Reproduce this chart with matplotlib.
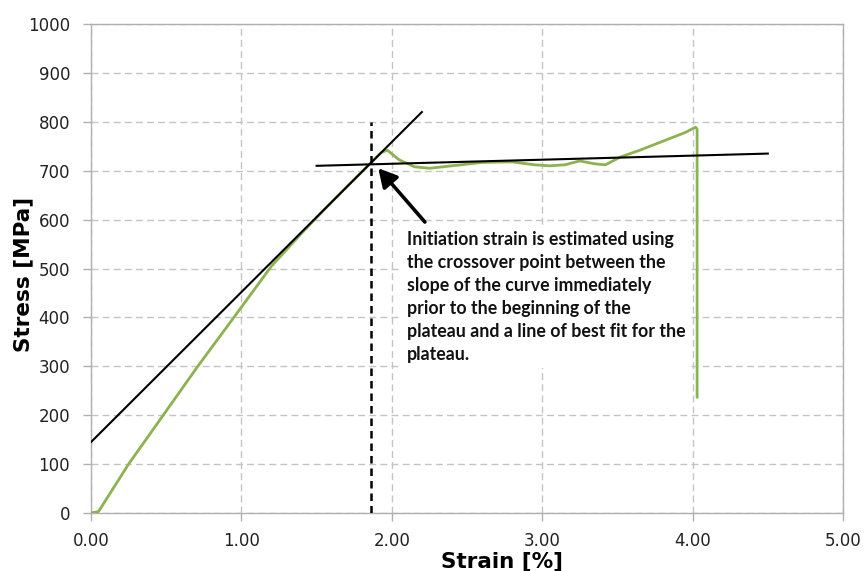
import matplotlib
matplotlib.use("Agg")
import matplotlib.pyplot as plt

# ---- data ----
strain = [0.00, 0.05, 0.25, 0.48, 0.71, 0.95, 1.20, 1.40, 1.55, 1.70, 1.86, 1.93, 1.97,
          2.05, 2.15, 2.25, 2.40, 2.60, 2.80, 2.95, 3.05, 3.15, 3.25, 3.35, 3.42,
          3.52, 3.65, 3.80, 3.95, 4.02, 4.03, 4.03]
stress = [0, 3, 100, 200, 300, 400, 505, 572, 620, 667, 716, 737, 742,
          722, 708, 705, 710, 717, 718, 712, 710, 712, 720, 714, 712,
          728, 742, 760, 778, 789, 785, 237]

slope_x = [0.0, 2.2]
slope_y = [145, 820]
plateau_x = [1.5, 4.5]
plateau_y = [710, 735]
init_strain = 1.86
init_line_top = 800
arrow_tail = (2.22, 595)
arrow_tip = (1.91, 705)
note = ("Initiation strain is estimated using\n"
        "the crossover point between the\n"
        "slope of the curve immediately\n"
        "prior to the beginning of the\n"
        "plateau and a line of best fit for the\n"
        "plateau.")
note_pos = (2.10, 576)

xticks = [0, 1, 2, 3, 4, 5]
xticklabels = ["0.00", "1.00", "2.00", "3.00", "4.00", "5.00"]
yticks = list(range(0, 1001, 100))

# ---- figure ----
fig = plt.figure(figsize=(8.64, 5.71), dpi=100)
ax = fig.add_axes([91/864, 1-513/571, (843-91)/864, (513-24)/571])
ax.set_xlim(0, 5)
ax.set_ylim(0, 1000)
ax.set_xticks(xticks)
ax.set_xticklabels(xticklabels)
ax.set_yticks(yticks)
ax.grid(True, color="#c4c4c4", linestyle=(0, (5, 3)), linewidth=1.0, zorder=0)
ax.set_axisbelow(True)
for s in ax.spines.values():
    s.set_color("#b0b0b0")
    s.set_linewidth(1.0)
ax.tick_params(axis="both", colors="#b0b0b0", labelcolor="#222222",
               labelsize=12, length=6, width=1.0)
ax.tick_params(axis="y", pad=9)
ax.tick_params(axis="x", pad=8)

ax.plot(strain, stress, color="#8db250", lw=2.0, zorder=3)
ax.plot(slope_x, slope_y, color="black", lw=1.5, zorder=4)
ax.plot(plateau_x, plateau_y, color="black", lw=1.5, zorder=4)
ax.plot([init_strain, init_strain], [0, init_line_top], color="black", lw=1.8,
        linestyle=(0, (3, 2)), zorder=4)

ax.annotate("", xy=arrow_tip, xytext=arrow_tail,
            arrowprops=dict(arrowstyle="-|>,head_length=1.1,head_width=0.6",
                            lw=2.6, color="black", shrinkA=0, shrinkB=0),
            zorder=5)

ax.text(note_pos[0], note_pos[1], note, ha="left", va="top", fontsize=12.8,
        fontweight="bold", family="Lato", color="#111111", linespacing=1.42,
        bbox=dict(facecolor="white", edgecolor="none", boxstyle="square,pad=0.3"),
        zorder=2)

ax.set_xlabel("Strain [%]", fontsize=15.5, fontweight="bold")
ax.set_ylabel("Stress [MPa]", fontsize=15.5, fontweight="bold")
ax.xaxis.set_label_coords((502-91)/752, -(561-513)/489)
ax.yaxis.set_label_coords(-(91-23)/752, (513-274)/489)
ax.xaxis.label.set_va("center")
ax.yaxis.label.set_va("center")

fig.savefig("out.png", dpi=100)
